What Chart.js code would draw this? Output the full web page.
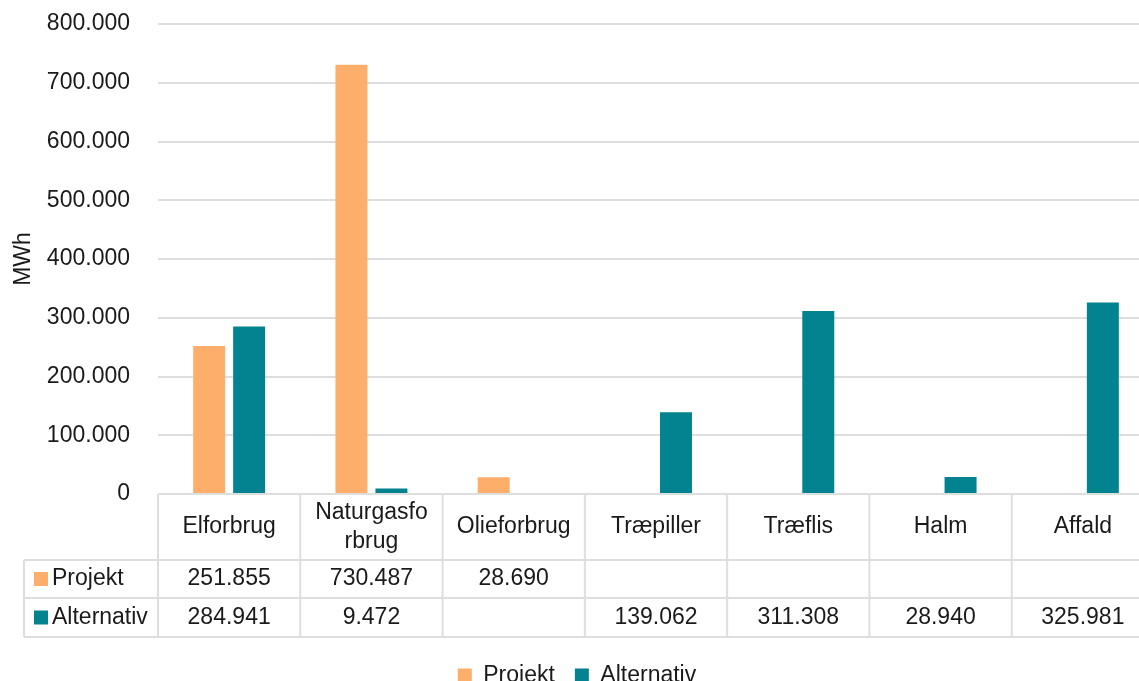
<!DOCTYPE html>
<html>
<head>
<meta charset="utf-8">
<script src="https://cdn.jsdelivr.net/npm/chart.js@4"></script>
<style>
  html, body { margin: 0; padding: 0; overflow: hidden; background: #fff; }
  canvas { display: block; }
</style>
</head>
<body>
<canvas id="chart" width="1166" height="697"></canvas>
<script>
// Categories (Naturgasforbrug wraps inside its table cell, like the original)
let categories = ['Elforbrug', ['Naturgasfo', 'rbrug'], 'Olieforbrug', 'Træpiller', 'Træflis', 'Halm', 'Affald']

// Series values in MWh
let projekt = [251855, 730487, 28690, null, null, null, null]
let alternativ = [284941, 9472, null, 139062, 311308, 28940, 325981]

// Y axis range
let yMax = 800000
let yStep = 100000

let palette = {
  projekt: '#fdae6b',
  alternativ: '#03838f',
}

let fontFamily = "'Liberation Sans', Arial, sans-serif"
let fontSize = 23
let textColor = '#1a1a1a'
let lineColor = '#dedede'

// Danish thousands separator
let fmt = (v) => String(v).replace(/\B(?=(\d{3})+(?!\d))/g, '.')

// Data table drawn under the plot, lined up with the category scale
let dataTable = {
  id: 'dataTable',
  afterDraw(chart) {
    let ctx = chart.ctx
    let x = chart.scales.x
    let area = chart.chartArea
    let colW = (area.right - area.left) / categories.length
    let y0 = area.bottom
    let y1 = y0 + 66
    let y2 = y1 + 38
    let y3 = y2 + 39
    let leftEdge = 24
    let rows = [
      { label: 'Projekt', data: projekt, color: palette.projekt, top: y1, bottom: y2 },
      { label: 'Alternativ', data: alternativ, color: palette.alternativ, top: y2, bottom: y3 },
    ]

    ctx.save()
    ctx.strokeStyle = lineColor
    ctx.lineWidth = 2

    // horizontal lines
    ctx.beginPath()
    ctx.moveTo(area.left, y0); ctx.lineTo(area.right, y0)
    ctx.moveTo(leftEdge, y1); ctx.lineTo(area.right, y1)
    ctx.moveTo(leftEdge, y2); ctx.lineTo(area.right, y2)
    ctx.moveTo(leftEdge, y3); ctx.lineTo(area.right, y3)
    // vertical lines
    ctx.moveTo(leftEdge, y1); ctx.lineTo(leftEdge, y3)
    for (let i = 0; i <= categories.length; i++) {
      let px = area.left + i * colW
      ctx.moveTo(px, y0); ctx.lineTo(px, y3)
    }
    ctx.stroke()

    ctx.fillStyle = textColor
    ctx.font = fontSize + 'px ' + fontFamily
    ctx.textAlign = 'center'
    ctx.textBaseline = 'middle'

    // header row
    categories.forEach((cat, i) => {
      let cx = x.getPixelForValue(i)
      let lines = Array.isArray(cat) ? cat : [cat]
      let lh = 29
      let start = (y0 + y1) / 2 - (lines.length - 1) * lh / 2
      lines.forEach((line, j) => ctx.fillText(line, cx, start + j * lh))
    })

    // series rows
    rows.forEach((row) => {
      let cy = (row.top + row.bottom) / 2
      ctx.fillStyle = row.color
      ctx.fillRect(34, cy - 7, 14, 14)
      ctx.fillStyle = textColor
      ctx.textAlign = 'left'
      ctx.fillText(row.label, 52, cy)
      ctx.textAlign = 'center'
      row.data.forEach((v, i) => {
        if (v !== null) ctx.fillText(fmt(v), x.getPixelForValue(i), cy)
      })
    })
    ctx.restore()
  }
}

let chart = new Chart(document.getElementById('chart'), {
  type: 'bar',
  data: {
    labels: categories,
    datasets: [
      {
        label: 'Projekt',
        data: projekt,
        backgroundColor: palette.projekt,
        categoryPercentage: 0.562,
        barPercentage: 0.8,
      },
      {
        label: 'Alternativ',
        data: alternativ,
        backgroundColor: palette.alternativ,
        categoryPercentage: 0.562,
        barPercentage: 0.8,
      },
    ]
  },
  options: {
    responsive: false,
    animation: false,
    layout: {
      padding: { top: 24, right: 12, bottom: 0, left: 0 }
    },
    plugins: {
      tooltip: { enabled: false },
      legend: {
        display: true,
        position: 'bottom',
        labels: {
          boxWidth: 14,
          boxHeight: 14,
          padding: 20,
          color: textColor,
          font: { family: fontFamily, size: fontSize },
        }
      }
    },
    scales: {
      x: {
        grid: { display: false },
        border: { display: false },
        ticks: { display: false },
        afterFit: (s) => { s.height = 150 },
      },
      y: {
        min: 0,
        max: yMax,
        grid: { color: lineColor, lineWidth: 2, drawTicks: false },
        border: { display: false },
        ticks: {
          stepSize: yStep,
          padding: 28,
          color: textColor,
          font: { family: fontFamily, size: fontSize },
          callback: (v) => fmt(v),
        },
        title: {
          display: true,
          text: 'MWh',
          color: textColor,
          font: { family: fontFamily, size: fontSize },
          padding: { top: 10, bottom: 0 },
        },
        afterFit: (s) => {
          s.width = 158
          s.paddingTop = 0
          s.paddingBottom = 0
        },
      }
    }
  },
  plugins: [dataTable]
})
</script>
</body>
</html>
